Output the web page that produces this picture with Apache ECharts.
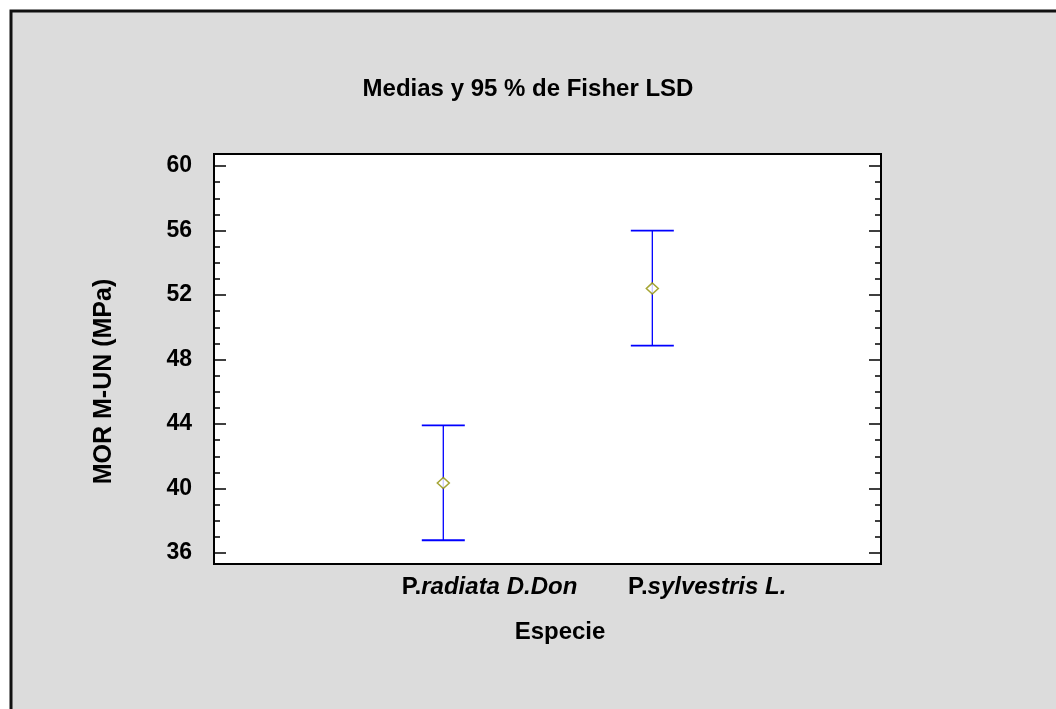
<!DOCTYPE html>
<html>
<head>
<meta charset="utf-8">
<script src="https://cdn.jsdelivr.net/npm/echarts@6/dist/echarts.min.js"></script>
<style>
  html, body { margin: 0; padding: 0; background: #fff; }
  #chart { width: 1056px; height: 709px; }
</style>
</head>
<body>
<div id="chart"></div>
<script>
// datos: medias y limites del intervalo LSD 95 %
const especies = ['P.radiata D.Don', 'P.sylvestris L.']
const medias = [40.34, 52.41]
const inferior = [36.79, 48.86]
const superior = [43.92, 55.99]
const yTicks = [36, 40, 44, 48, 52, 56, 60]

const xMin = -1.097
const xMax = 2.094
const shift = 0.641 // etiquetas desplazadas como en el original

const font = '"Liberation Sans", Arial, sans-serif'
const chart = echarts.init(document.getElementById('chart'))

chart.setOption({
  animation: false,
  backgroundColor: '#ffffff',
  graphic: [{
    type: 'rect',
    z: -10,
    shape: { x: 11, y: 11, width: 1100, height: 800 },
    style: { fill: '#dcdcdc', stroke: '#111', lineWidth: 3 }
  }],
  title: {
    text: 'Medias y 95 % de Fisher LSD',
    left: 'center',
    top: 72,
    textStyle: { fontFamily: font, fontSize: 24, fontWeight: 'bold', color: '#000' }
  },
  grid: [
    { // marco
      left: 214, right: 175, top: 154, bottom: 145,
      show: true, backgroundColor: '#fff', borderColor: '#000', borderWidth: 2
    },
    { // datos
      left: 214, right: 175, top: 166, bottom: 156, show: false
    }
  ],
  xAxis: [
    {
      gridIndex: 1, type: 'value', min: xMin, max: xMax,
      axisLine: { show: false, onZero: false }, axisTick: { show: false },
      axisLabel: { show: false }, splitLine: { show: false }
    },
    {
      gridIndex: 0, type: 'value', min: xMin - shift, max: xMax - shift,
      name: 'Especie',
      nameLocation: 'middle',
      nameGap: 56,
      nameTextStyle: { fontFamily: font, fontSize: 24, fontWeight: 'bold', color: '#000', padding: [0, 0, 0, 25] },
      axisLine: { show: false, onZero: false }, axisTick: { show: false }, splitLine: { show: false },
      axisLabel: {
        customValues: [0, 1],
        align: 'right',
        margin: 11,
        formatter: (v) => {
          const s = especies[Math.round(v)] || ''
          return '{n|' + s.slice(0, 2) + '}{i|' + s.slice(2) + '}'
        },
        rich: {
          n: { fontFamily: font, fontSize: 24, fontWeight: 'bold', color: '#000' },
          i: { fontFamily: font, fontSize: 24, fontWeight: 'bold', fontStyle: 'italic', color: '#000' }
        }
      }
    }
  ],
  yAxis: [
    {
      gridIndex: 0, type: 'value', min: 0, max: 1, show: false
    },
    {
      gridIndex: 1, type: 'value', min: 36, max: 60, interval: 4,
      name: 'MOR M-UN (MPa)',
      nameLocation: 'middle',
      nameGap: 97,
      nameTextStyle: { fontFamily: font, fontSize: 25, fontWeight: 'bold', color: '#000', padding: [0, 44, 0, 0] },
      axisLine: { show: false, onZero: false },
      axisTick: { show: true, inside: true, length: 12, lineStyle: { color: '#000', width: 1.5 } },
      minorTick: { show: true, splitNumber: 4, length: 6, lineStyle: { color: '#000', width: 1.5 } },
      splitLine: { show: false },
      axisLabel: {
        margin: 22, color: '#000', fontFamily: font, fontSize: 23, fontWeight: 'bold',
        padding: [4, 0, 0, 0],
        formatter: (v) => yTicks.includes(v) ? String(v) : ''
      }
    },
    {
      gridIndex: 1, type: 'value', min: 36, max: 60, interval: 4, position: 'right',
      axisLine: { show: false, onZero: false },
      axisTick: { show: true, inside: true, length: 12, lineStyle: { color: '#000', width: 1.5 } },
      minorTick: { show: true, splitNumber: 4, length: 6, lineStyle: { color: '#000', width: 1.5 } },
      splitLine: { show: false },
      axisLabel: { show: false }
    }
  ],
  series: [
    {
      type: 'custom',
      xAxisIndex: 0,
      yAxisIndex: 1,
      data: especies.map((e, i) => [i, inferior[i], superior[i]]),
      renderItem: (params, api) => {
        const lo = api.coord([api.value(0), api.value(1)])
        const hi = api.coord([api.value(0), api.value(2)])
        const half = 21.5
        const cap = { stroke: '#0000ff', lineWidth: 1.8 }
        return {
          type: 'group',
          children: [
            { type: 'line', shape: { x1: hi[0], y1: hi[1], x2: lo[0], y2: lo[1] }, style: { stroke: '#0000ff', lineWidth: 1.3 } },
            { type: 'line', shape: { x1: hi[0] - half, y1: hi[1], x2: hi[0] + half, y2: hi[1] }, style: cap },
            { type: 'line', shape: { x1: lo[0] - half, y1: lo[1], x2: lo[0] + half, y2: lo[1] }, style: cap }
          ]
        }
      }
    },
    {
      type: 'scatter',
      xAxisIndex: 0,
      yAxisIndex: 1,
      symbol: 'diamond',
      symbolSize: [12, 11],
      z: 5,
      itemStyle: { color: '#fff', borderColor: '#8f8f00', borderWidth: 1.5 },
      data: medias.map((m, i) => [i, m])
    }
  ]
})
</script>
</body>
</html>
